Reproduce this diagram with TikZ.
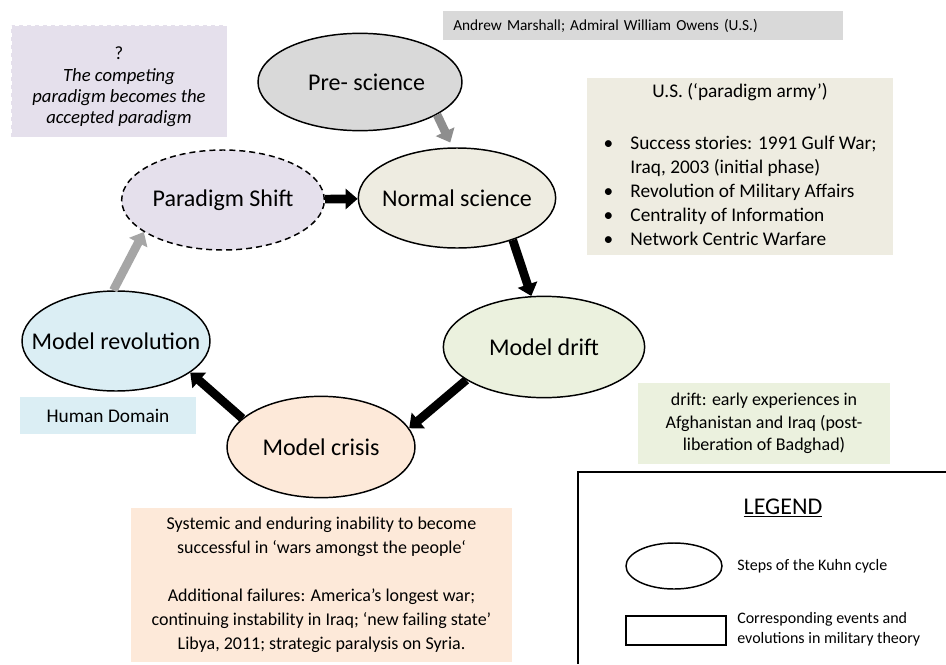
\documentclass[tikz,border=0pt]{standalone}
\usepackage{fontspec}
\setmainfont{Carlito}
\usetikzlibrary{shapes.geometric,arrows.meta}
\definecolor{grisclair}{HTML}{D9D9D9}
\definecolor{beigeclair}{HTML}{EEECE1}
\definecolor{lavande}{HTML}{E5E0EC}
\definecolor{vertpale}{HTML}{EBF1DE}
\definecolor{bleupale}{HTML}{DBEEF4}
\definecolor{peche}{HTML}{FDE9D9}
\definecolor{grisfonce}{HTML}{8E8E8E}
\colorlet{grisfleche}{black!35}
\tikzstyle{bord}=[line width=1.1pt]
\tikzstyle{kuhn}=[ellipse,draw,bord,inner sep=0pt,font=\fontsize{18}{22}\selectfont]
\tikzstyle{note}=[rectangle,inner sep=0pt,align=center]
\tikzstyle{fleche}=[line width=6.5pt,-{Triangle[length=9pt,width=15pt]}]

\begin{document}
\begin{tikzpicture}[x=0.75pt,y=-0.75pt]
\useasboundingbox (0,0) rectangle (946,664);

% steps of the cycle
\node[kuhn,fill=grisclair,minimum width=153pt,minimum height=73pt] (pre) at (360,82) {\makebox[0pt]{\hspace{10pt}Pre- science}};
\node[kuhn,fill=beigeclair,minimum width=148pt,minimum height=75pt] (normal) at (457,198) {\makebox[0pt]{Normal science}};
\node[kuhn,dash pattern=on 4.5pt off 3pt,fill=lavande,minimum width=152pt,minimum height=75pt] (shift) at (223,200) {\makebox[0pt]{Paradigm Shift}};
\node[kuhn,fill=vertpale,minimum width=151pt,minimum height=76pt] (drift) at (544,347) {\makebox[0pt]{Model drift}};
\node[kuhn,fill=bleupale,minimum width=141pt,minimum height=75pt] (rev) at (116,341) {\makebox[0pt]{Model revolution}};
\node[kuhn,fill=peche,minimum width=141pt,minimum height=76pt] (crisis) at (321,447) {\makebox[0pt]{Model crisis}};

% notes
\node[note,fill=lavande,draw=white,dashed,minimum width=162pt,minimum height=84pt,font=\fontsize{14}{16}\selectfont] (shiftnote) at (119,81)
  {\rule{0pt}{18.5pt}?\\\textit{The competing}\\\textit{paradigm becomes the}\\\textit{accepted paradigm}};
\node[note,fill=grisclair,anchor=west,minimum width=300pt,minimum height=21.75pt,text width=285pt,align=left,font=\fontsize{11.5}{13}\selectfont] (owens) at (443,25.5)
  {Andrew Marshall; Admiral William Owens (U.S.)};
\node[note,fill=beigeclair,minimum width=229.5pt,minimum height=132.75pt,font=\fontsize{14.5}{18}\selectfont] (usnote) at (740,166.5)
  {\begin{tabular}{@{}l@{\hspace{13pt}}l@{}}
   \multicolumn{2}{c}{U.S. (‘paradigm army’)}\\[3pt]
   \\
   • & Success stories: 1991 Gulf War;\\
     & Iraq, 2003 (initial phase)\\
   • & Revolution of Military Affairs\\
   • & Centrality of Information\\
   • & Network Centric Warfare
   \end{tabular}};
\node[note,fill=vertpale,minimum width=189pt,minimum height=60.75pt,font=\fontsize{13.5}{17}\selectfont] (driftnote) at (764,423.5)
  {drift: early experiences in\\Afghanistan and Iraq (post-\\liberation of Badghad)};
\node[note,fill=bleupale,minimum width=132pt,minimum height=27.75pt,font=\fontsize{14.5}{17}\selectfont] (human) at (108,415.5) {Human Domain};
\node[note,fill=peche,minimum width=285.75pt,minimum height=115.5pt,font=\fontsize{13.5}{18}\selectfont] (crisisnote) at (321.5,585)
  {Systemic and enduring inability to become\\successful in ‘wars amongst the people‘\\[18pt]Additional failures: America’s longest war;\\continuing instability in Iraq; ‘new failing state’\\Libya, 2011; strategic paralysis on Syria.};

% arrows
\draw[fleche,grisfonce,shorten >=4pt] (pre.-23) -- (normal.95);
\draw[fleche] (shift) -- (normal);
\foreach \a/\b in {normal.-37/drift.104,drift.-157/crisis.12,crisis.160/rev.-23}
\draw[fleche] (\a) -- (\b);
\draw[fleche,grisfleche] (rev.93) -- (shift.-158);

% legend
\draw[bord] (946,472) -| (578,664);
\node[font=\fontsize{18}{20}\selectfont] (legend) at (783,508) {\underline{LEGEND}};
\node[kuhn,minimum width=72pt,minimum height=34.5pt] (lstep) at (674,566) {};
\node[draw,bord,minimum width=75pt,minimum height=21.75pt] (lbox) at (676,630.5) {};
\node[note,anchor=west,align=left,font=\fontsize{12}{15}\selectfont] (lsteptext) at (737,566) {Steps of the Kuhn cycle};
\node[note,anchor=west,align=left,font=\fontsize{12}{15}\selectfont] (lboxtext) at (737,629) {Corresponding events and\\evolutions in military theory};

\end{tikzpicture}
\end{document}
